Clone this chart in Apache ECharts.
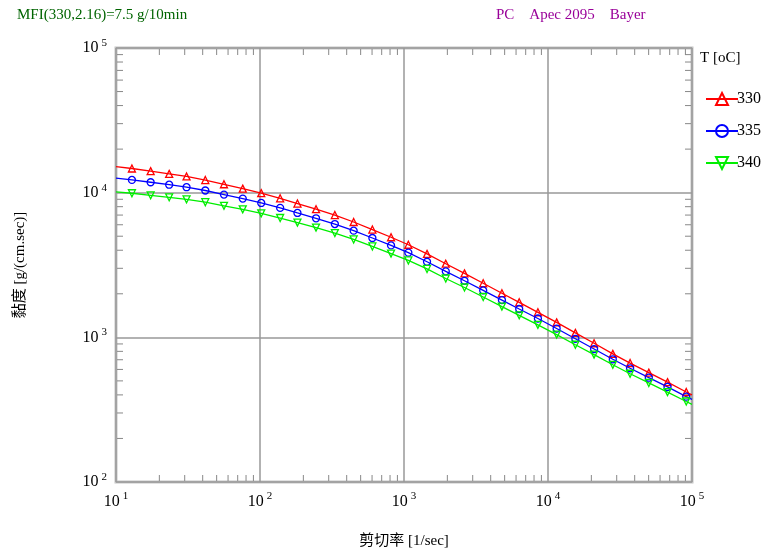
<!DOCTYPE html>
<html>
<head>
<meta charset="utf-8">
<script src="https://cdn.jsdelivr.net/npm/echarts@6/dist/echarts.min.js"></script>
<style>
  html, body { margin: 0; padding: 0; background: #fff; }
  #main { width: 769px; height: 555px; }
</style>
</head>
<body>
<div id="main"></div>
<script>
  // 剪切率 (1/sec) - 端点 + 标记点
  var shearRate = [10, 12.9, 17.4, 23.4, 30.9, 41.7, 56.2, 75.9, 102, 138, 182, 245, 331, 447, 603, 813,
    1072, 1445, 1950, 2630, 3548, 4786, 6310, 8511, 11482, 15488, 20893, 28184, 37154, 50119, 67608, 91201, 100000];
  // 黏度 g/(cm.sec)
  var eta330 = [15140, 14690, 14090, 13490, 12940, 12220, 11430, 10670, 9930, 9140, 8410, 7690, 7000, 6270, 5560, 4920,
    4365, 3776, 3228, 2767, 2366, 2018, 1746, 1489, 1268, 1074, 910, 769, 664, 570, 490, 419, 400];
  var eta335 = [12590, 12250, 11800, 11350, 10910, 10350, 9700, 9100, 8490, 7850, 7240, 6650, 6070, 5460, 4860, 4320,
    3850, 3330, 2860, 2460, 2110, 1810, 1570, 1350, 1150, 977, 830, 705, 611, 526, 454, 389, 373];
  var eta340 = [10120, 9910, 9590, 9290, 8990, 8590, 8110, 7660, 7190, 6680, 6210, 5730, 5260, 4750, 4250, 3790,
    3400, 2970, 2550, 2210, 1900, 1630, 1420, 1220, 1045, 889, 759, 646, 560, 484, 418, 360, 344];
  var tempNames = ['330', '335', '340'];
  var mantissa = [2, 3, 4, 5, 6, 7, 8, 9];
  var xDecades = [10, 100, 1000, 10000];
  var yDecades = [100, 1000, 10000];

  var serif = '"Liberation Serif", "Noto Sans CJK TC", serif';

  function toData(ys) {
    return shearRate.map(function (x, i) {
      var d = { value: [x, ys[i]] };
      // 两端只连线，不画标记
      if (i === 0 || i === shearRate.length - 1) d.symbol = 'none';
      return d;
    });
  }

  var xMinor = [], yMinor = [];
  xDecades.forEach(function (d) { mantissa.forEach(function (m) { xMinor.push([d * m, 100]); }); });
  yDecades.forEach(function (d) { mantissa.forEach(function (m) { yMinor.push([10, d * m]); }); });

  function powLabel(v) {
    return '{b|10}{s|' + Math.round(Math.log10(v)) + '}';
  }
  var labelRich = {
    b: { fontFamily: serif, fontSize: 16, color: '#000' },
    s: { fontFamily: serif, fontSize: 11, color: '#000', padding: [0, 0, 10, 3] }
  };

  function lineSeries(name, ys, color, symbol, rotate) {
    return {
      name: name,
      type: 'line',
      data: toData(ys),
      symbol: symbol,
      symbolSize: 7,
      symbolRotate: rotate,
      showAllSymbol: true,
      lineStyle: { color: color, width: 1.3 },
      itemStyle: { color: 'rgba(255,255,255,0)', borderColor: color, borderWidth: 1.3 },
      emphasis: { disabled: true },
      z: 5
    };
  }

  var chart = echarts.init(document.getElementById('main'));
  chart.setOption({
    animation: false,
    backgroundColor: '#fff',
    grid: { left: 116, right: 77, top: 48, bottom: 73, show: true, borderColor: '#c4c4c4', borderWidth: 3, backgroundColor: 'transparent' },
    graphic: [
      { type: 'text', left: 17, top: 8, style: { text: 'MFI(330,2.16)=7.5 g/10min', font: '15px ' + serif, fill: '#006400' } },
      { type: 'text', left: 496, top: 8, style: { text: 'PC    Apec 2095    Bayer', font: '15px ' + serif, fill: '#990099' } },
      { type: 'text', left: 700, top: 51, style: { text: 'T [oC]', font: '15px ' + serif, fill: '#000' } }
    ],
    legend: {
      data: tempNames,
      orient: 'vertical',
      left: 700,
      top: 86,
      itemWidth: 32,
      itemHeight: 15,
      itemGap: 16,
      textStyle: { fontFamily: serif, fontSize: 16, color: '#000', padding: [0, 0, 0, -6] },
      selectedMode: false
    },
    xAxis: {
      type: 'log',
      logBase: 10,
      min: 10,
      max: 100000,
      name: '剪切率 [1/sec]',
      nameLocation: 'middle',
      nameGap: 52,
      nameTextStyle: { fontFamily: serif, fontSize: 15, color: '#000' },
      axisLine: { show: false },
      axisTick: { show: false },
      axisLabel: { formatter: powLabel, rich: labelRich, margin: 9 },
      splitLine: { show: true, lineStyle: { color: '#999', width: 1.5 } }
    },
    yAxis: {
      type: 'log',
      logBase: 10,
      min: 100,
      max: 100000,
      name: '黏度 [g/(cm.sec)]',
      nameLocation: 'middle',
      nameGap: 88,
      nameRotate: 90,
      nameTextStyle: { fontFamily: serif, fontSize: 15, color: '#000' },
      axisLine: { show: false },
      axisTick: { show: false },
      axisLabel: { formatter: powLabel, rich: labelRich, margin: 9 },
      splitLine: { show: true, lineStyle: { color: '#999', width: 1.5 } }
    },
    series: [
      {
        type: 'custom',
        data: xMinor,
        silent: true,
        z: 1,
        renderItem: function (params, api) {
          var cs = params.coordSys;
          var x = api.coord([api.value(0), 100])[0];
          var st = { stroke: '#888', lineWidth: 1 };
          return {
            type: 'group',
            children: [
              { type: 'line', shape: { x1: x, y1: cs.y + cs.height - 1, x2: x, y2: cs.y + cs.height - 7 }, style: st },
              { type: 'line', shape: { x1: x, y1: cs.y + 1, x2: x, y2: cs.y + 7 }, style: st }
            ]
          };
        }
      },
      {
        type: 'custom',
        data: yMinor,
        silent: true,
        z: 1,
        renderItem: function (params, api) {
          var cs = params.coordSys;
          var y = api.coord([10, api.value(1)])[1];
          var st = { stroke: '#888', lineWidth: 1 };
          return {
            type: 'group',
            children: [
              { type: 'line', shape: { x1: cs.x + 1, y1: y, x2: cs.x + 7, y2: y }, style: st },
              { type: 'line', shape: { x1: cs.x + cs.width - 1, y1: y, x2: cs.x + cs.width - 7, y2: y }, style: st }
            ]
          };
        }
      },
      lineSeries(tempNames[0], eta330, '#ff0000', 'triangle', 0),
      lineSeries(tempNames[1], eta335, '#0000ff', 'circle', 0),
      lineSeries(tempNames[2], eta340, '#00ee00', 'triangle', 180)
    ]
  });
</script>
</body>
</html>
